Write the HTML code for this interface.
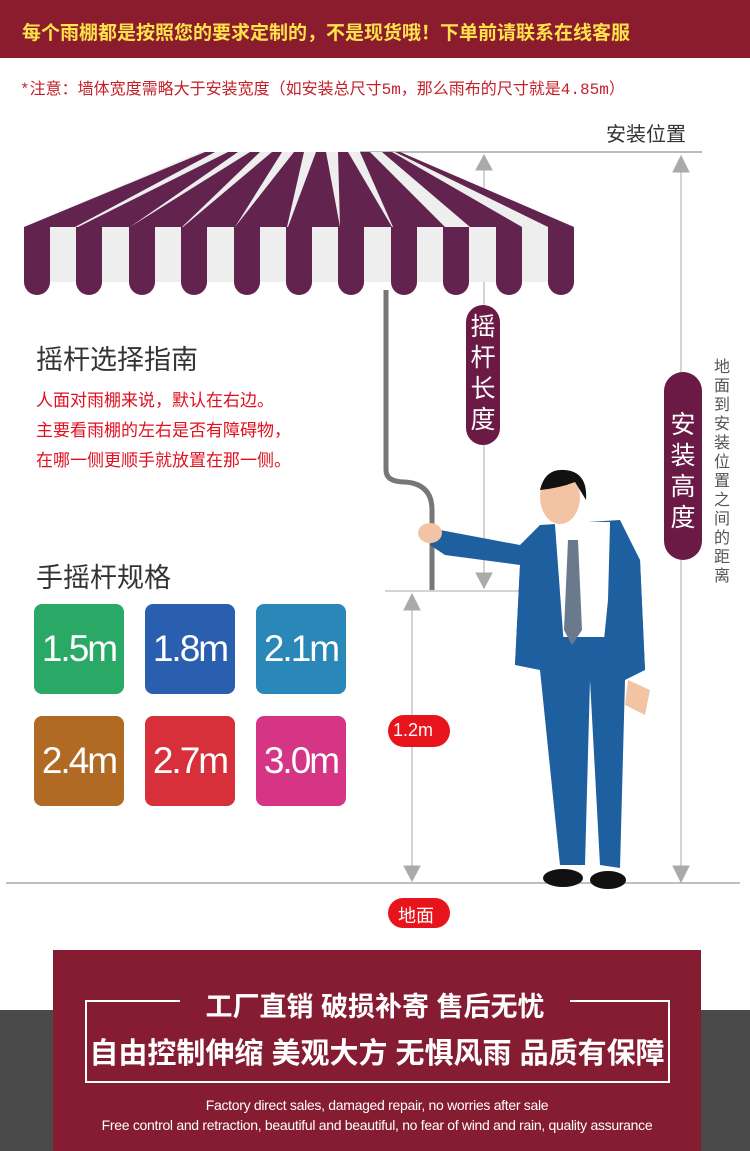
<!DOCTYPE html>
<html><head><meta charset="utf-8"><style>
body{margin:0;width:750px;height:1151px;position:relative;background:#fff;font-family:"Liberation Sans","Noto Sans CJK SC",sans-serif;overflow:hidden}
.a{position:absolute}
.box{position:absolute;width:90px;height:90px;border-radius:8px;color:#fff;font-size:37px;letter-spacing:-2px;display:flex;align-items:center;justify-content:center}
</style></head><body>
<div class="a" style="left:0;top:0;width:750px;height:58px;background:#8a1c2e"></div>
<div class="a" style="left:22px;top:18px;color:#ffe14a;font-size:19px;font-weight:bold">每个雨棚都是按照您的要求定制的，不是现货哦！下单前请联系在线客服</div>
<div class="a" style="left:20px;top:75px;color:#c4202a;font-size:16px;font-family:'Liberation Mono','Noto Sans CJK SC',monospace">*注意：墙体宽度需略大于安装宽度（如安装总尺寸5m，那么雨布的尺寸就是4.85m）</div>
<svg class="a" style="left:0;top:0" width="750" height="1151">
<line x1="360" y1="152" x2="702" y2="152" stroke="#bbb" stroke-width="2"/>
<line x1="6" y1="883" x2="740" y2="883" stroke="#aaa" stroke-width="1.5"/>
<line x1="385" y1="591" x2="520" y2="591" stroke="#aaa" stroke-width="1"/>
<g stroke="#aaa" fill="#aaa">
<line x1="484" y1="165" x2="484" y2="575"/><polygon points="476,170 492,170 484,155"/><polygon points="476,573 492,573 484,588"/>
<line x1="681" y1="165" x2="681" y2="870"/><polygon points="673,172 689,172 681,156"/><polygon points="673,866 689,866 681,882"/>
<line x1="412" y1="605" x2="412" y2="870"/><polygon points="404,610 420,610 412,594"/><polygon points="404,866 420,866 412,881"/>
</g>
<polygon points="200,152 395,152 574,227 24,227" fill="#eee"/>
<g fill="#62244f">
<polygon points="205,152 215,152 75,227 24,227"/>
<polygon points="228,152 238,152 130,227 78,227"/>
<polygon points="250,152 260,152 182,227 130,227"/>
<polygon points="272,152 282,152 235,227 183,227"/>
<polygon points="294,152 304,152 287,227 235,227"/>
<polygon points="316,152 326,152 340,227 288,227"/>
<polygon points="338,152 348,152 392,227 340,227"/>
<polygon points="360,152 370,152 445,227 393,227"/>
<polygon points="382,152 392,152 522,227 470,227"/>
<polygon points="395,152 400,152 574,227 548,227"/>
</g>
<rect x="24" y="227" width="550" height="55" fill="#eee"/>
<g fill="#62244f">
<path d="M24 227h26v55a13 13 0 0 1-26 0z"/><path d="M76 227h26v55a13 13 0 0 1-26 0z"/><path d="M129 227h26v55a13 13 0 0 1-26 0z"/><path d="M181 227h26v55a13 13 0 0 1-26 0z"/><path d="M234 227h26v55a13 13 0 0 1-26 0z"/><path d="M286 227h26v55a13 13 0 0 1-26 0z"/><path d="M338 227h26v55a13 13 0 0 1-26 0z"/><path d="M391 227h26v55a13 13 0 0 1-26 0z"/><path d="M443 227h26v55a13 13 0 0 1-26 0z"/><path d="M496 227h26v55a13 13 0 0 1-26 0z"/><path d="M548 227h26v55a13 13 0 0 1-26 0z"/>
</g>
<path d="M386 290 V470 Q386 482 405 482 Q432 484 432 510 V590" stroke="#777" stroke-width="5" fill="none"/>
<rect x="466" y="305" width="34" height="140" rx="17" fill="#6a1a45"/>
<rect x="664" y="372" width="38" height="188" rx="19" fill="#6a1a45"/>
<rect x="388" y="715" width="62" height="32" rx="16" fill="#e8141c"/>
<rect x="388" y="898" width="62" height="30" rx="15" fill="#e8141c"/>
<!-- man -->
<path d="M540 525 L520 545 L440 530 L430 545 L445 555 L520 565 L515 665 L540 670 L560 865 L585 865 L590 680 L600 865 L620 868 L625 680 L645 670 L640 560 L620 520 Z" fill="#1e5fa0"/>
<rect x="555" y="522" width="55" height="115" fill="#fff"/>
<polygon points="568,540 578,540 582,630 572,645 564,630" fill="#6a7a8c"/>
<path d="M520 565 L555 525 L565 660 L515 665Z" fill="#1e5fa0"/>
<path d="M610 525 L640 560 L645 670 L600 680 L608 600Z" fill="#1e5fa0"/>
<path d="M628 680 L650 690 L645 715 L625 705Z" fill="#f2c4a4"/>
<ellipse cx="560" cy="497" rx="20" ry="27" fill="#f2c4a4"/>
<path d="M540 490 Q545 468 565 470 Q588 472 586 500 Q580 490 575 482 Q560 488 540 490Z" fill="#111"/>
<ellipse cx="430" cy="533" rx="12" ry="10" fill="#f2c4a4"/>
<ellipse cx="563" cy="878" rx="20" ry="9" fill="#111"/><ellipse cx="608" cy="880" rx="18" ry="9" fill="#111"/>
</svg>
<div class="a" style="left:606px;top:118px;font-size:20px;color:#333">安装位置</div>
<div class="a" style="left:470px;top:312px;width:26px;font-size:25px;line-height:31px;color:#fff;text-align:center">摇杆长度</div>
<div class="a" style="left:670px;top:410px;width:26px;font-size:25px;line-height:31px;color:#fff;text-align:center">安装高度</div>
<div class="a" style="left:713px;top:358px;width:18px;font-size:16px;line-height:19px;color:#555;text-align:center">地面到安装位置之间的距离</div>
<div class="a" style="left:393px;top:720px;font-size:18px;color:#fff">1.2m</div>
<div class="a" style="left:398px;top:902px;font-size:18px;color:#fff">地面</div>
<div class="a" style="left:36px;top:338px;font-size:27px;color:#333">摇杆选择指南</div>
<div class="a" style="left:36px;top:386px;font-size:17px;line-height:30px;color:#e01020">人面对雨棚来说，默认在右边。<br>主要看雨棚的左右是否有障碍物，<br>在哪一侧更顺手就放置在那一侧。</div>
<div class="a" style="left:36px;top:556px;font-size:27px;color:#333">手摇杆规格</div>
<div class="box" style="left:34px;top:604px;background:#2aa866">1.5m</div>
<div class="box" style="left:145px;top:604px;background:#2a5fb0">1.8m</div>
<div class="box" style="left:256px;top:604px;background:#2a88b8">2.1m</div>
<div class="box" style="left:34px;top:716px;background:#b06a24">2.4m</div>
<div class="box" style="left:145px;top:716px;background:#d8303a">2.7m</div>
<div class="box" style="left:256px;top:716px;background:#d63484">3.0m</div>
<div class="a" style="left:0;top:1010px;width:750px;height:141px;background:#4a4a4a"></div>
<div class="a" style="left:53px;top:950px;width:648px;height:201px;background:#861c31"></div>
<div class="a" style="left:85px;top:1000px;width:581px;height:81px;border:2px solid #fff;border-top:none"></div>
<div class="a" style="left:85px;top:1000px;width:95px;height:2px;background:#fff"></div>
<div class="a" style="left:570px;top:1000px;width:98px;height:2px;background:#fff"></div>
<div class="a" style="left:180px;top:985px;width:390px;text-align:center;color:#fff;font-size:27px;font-weight:bold">工厂直销 破损补寄 售后无忧</div>
<div class="a" style="left:87px;top:1030px;width:580px;text-align:center;color:#fff;font-size:29px;font-weight:bold">自由控制伸缩 美观大方 无惧风雨 品质有保障</div>
<div class="a" style="left:53px;top:1095px;width:648px;text-align:center;color:#fff;font-size:14px;line-height:20px;letter-spacing:-0.3px">Factory direct sales, damaged repair, no worries after sale<br>Free control and retraction, beautiful and beautiful, no fear of wind and rain, quality assurance</div>
</body></html>
